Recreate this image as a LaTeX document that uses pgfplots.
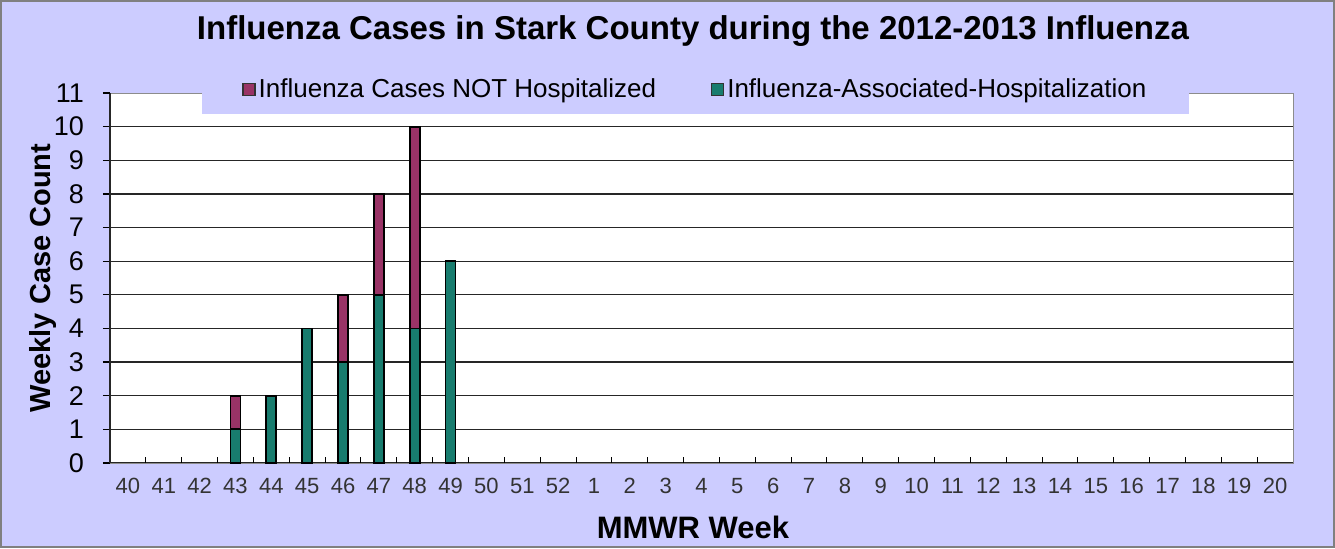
\documentclass[border=0pt]{standalone}
\usepackage{fontspec}
\setmainfont{Liberation Sans}
\usepackage{pgfplots}
\pgfplotsset{compat=1.18}
\definecolor{lav}{RGB}{204,204,255}
\definecolor{plum}{RGB}{153,51,102}
\definecolor{tealc}{RGB}{24,124,110}
\pgfplotsset{sqlegend/.style={legend image code/.code={\draw[##1] (0pt,-3pt) rectangle (6pt,3pt);}}}
\pgfplotstableread{
x hosp nothosp
3 1 1
4 2 0
5 4 0
6 3 2
7 5 3
8 4 6
9 6 0
}\flu
\begin{document}
\begin{tikzpicture}[x=1pt,y=1pt]
\path[use as bounding box] (0,0) rectangle (667.5,274);
\fill[lav] (0,0) rectangle (667.5,274);
\draw[gray, line width=0.8pt] (0.4,0.4) rectangle (667.1,273.6);
\begin{axis}[
  at={(55pt,42.5pt)}, anchor=south west, scale only axis,
  width=591.5pt, height=185pt,
  xmin=-0.5, xmax=32.5, ymin=0, ymax=11,
  clip=false,
  axis background/.style={fill=white},
  axis line style={black!45, line width=0.5pt},
  tick pos=left,
  tick align=outside,
  ytick={0,...,10},
  extra y ticks={11},
  extra y tick style={grid=none},
  ymajorgrids,
  major grid style={black!85, line width=0.6pt},
  xtick={0,...,32},
  xticklabels={40,41,42,43,44,45,46,47,48,49,50,51,52,1,2,3,4,5,6,7,8,9,10,11,12,13,14,15,16,17,18,19,20},
  major x tick style={draw=none},
  minor xtick={-0.5,0.5,...,32.5},
  minor tick length=3pt,
  minor x tick style={yshift=3pt, black, line width=0.5pt},
  major tick length=3.5pt,
  major y tick style={black, line width=0.6pt},
  extra x ticks={-0.5},
  extra x tick labels={},
  extra x tick style={grid=major},
  /pgf/number format/assume math mode=true,
  xticklabel style={font=\fontsize{11}{13}\selectfont, text=black!80, anchor=center, yshift=-8pt},
  yticklabel style={font=\fontsize{13.5}{16}\selectfont, anchor=east, xshift=-6pt},
  xlabel={MMWR Week},
  xlabel style={font=\bfseries\fontsize{15.5}{18}\selectfont, at={(axis description cs:0.4928,-0.173)}, anchor=center},
  ylabel={Weekly Case Count},
  ylabel style={font=\bfseries\fontsize{14.5}{17}\selectfont, at={(axis description cs:-0.0570,0.5)}, anchor=center},
  legend style={at={(0.4953,1.0757)}, anchor=north, draw=none, fill=lav,
    legend columns=2, font=\fontsize{13}{15}\selectfont,
    inner xsep=20pt, inner ysep=4.75pt,
    /tikz/every even column/.append style={column sep=26pt},
    nodes={inner xsep=1.5pt}},
  legend cell align=left,
  ybar stacked, bar width=5pt,
]
\addlegendimage{fill=plum, draw=black!80, line width=0.6pt, sqlegend}
\addlegendentry{Influenza Cases NOT Hospitalized}
\addlegendimage{fill=tealc, draw=black!80, line width=0.6pt, sqlegend}
\addlegendentry{Influenza-Associated-Hospitalization}
\addplot[fill=tealc, draw=black, line width=0.9pt, bar shift=0pt, forget plot] table[x=x, y=hosp] {\flu};
\addplot[fill=plum, draw=black, line width=0.9pt, bar shift=0pt, forget plot] table[x=x, y=nothosp] {\flu};
\node[font=\bfseries\fontsize{16.5}{19}\selectfont, anchor=center] at (rel axis cs:0.4928,1.168) {Influenza Cases in Stark County during the 2012-2013 Influenza};
\end{axis}
\end{tikzpicture}
\end{document}
